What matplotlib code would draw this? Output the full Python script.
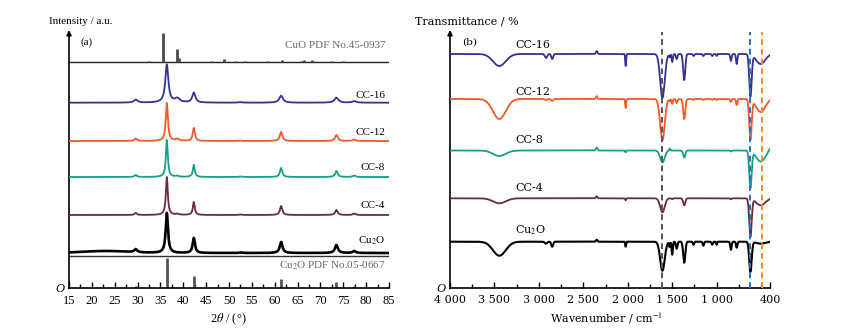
import numpy as np
import matplotlib
matplotlib.use("Agg")
import matplotlib.pyplot as plt
from matplotlib.ticker import FixedLocator, MultipleLocator

plt.rcParams['font.family'] = ['Liberation Serif', 'DejaVu Serif']
plt.rcParams['mathtext.fontset'] = 'stix'

# ---------------- panel (a): XRD ----------------
xrd_labels = ["CC-16", "CC-12", "CC-8", "CC-4", "Cu$_2$O"]
xrd_peak_pos = [29.6, 36.4, 38.7, 42.3, 52.5, 61.4, 73.5, 77.4]
xrd_peak_wscale = [1.2, 1.0, 1.6, 1.0, 1.2, 1.2, 1.3, 1.3]
xrd_cc16 = [3.0, 38.0, 4.0, 10.0, 0.5, 7.0, 5.0, 1.5]
xrd_cc12 = [2.5, 38.0, 2.0, 13.0, 0.5, 9.0, 6.0, 1.5]
xrd_cc8 = [2.0, 37.0, 1.0, 12.0, 0.5, 9.0, 6.0, 1.5]
xrd_cc4 = [2.0, 38.0, 1.0, 13.0, 0.5, 9.0, 5.0, 1.5]
xrd_cu2o = [3.0, 40.0, 0.0, 15.0, 0.5, 11.0, 8.0, 2.0]
xrd_fwhm = [0.8, 0.55, 0.5, 0.5, 0.6]
cu2o_hump = [23.0, 2.0, 12.0]  # position, height, width of amorphous hump

cuo_pdf_pos = [32.5, 35.5, 38.7, 39.0, 46.3, 48.8, 51.4, 53.5, 58.3, 61.5,
               65.8, 66.3, 68.1, 72.4, 75.0, 80.2, 82.4, 83.2]
cuo_pdf_int = [1.5, 29, 13, 4, 1, 3.5, 1, 1.5, 1.5, 2.5,
               1, 2, 2.5, 1, 1, 0.6, 0.6, 0.6]
cu2o_pdf_pos = [29.6, 36.4, 42.3, 52.5, 61.4, 73.5, 77.4]
cu2o_pdf_int = [2, 30, 12, 0.6, 9.5, 6.5, 2]

# ---------------- panel (b): FTIR ----------------
ftir_labels = ["CC-16", "CC-12", "CC-8", "CC-4", "Cu$_2$O"]
ftir_band_pos = [3445, 2920, 2850, 2350, 2024, 1610, 1530, 1500, 1450, 1365,
                 1260, 1150, 1050, 1000, 840, 775, 620, 505, 400]
ftir_band_fwhm = [170, 30, 25, 20, 12, 60, 14, 16, 20, 28,
                  18, 18, 18, 12, 18, 18, 32, 120, 40]
ftir_cc16 = [12, 4, 5, -3, 12, 44, 3, 8, 5, 26, 2, 2, 2, 2, 7, 10, 42, 10, 0]
ftir_cc12 = [20, 1, 2, -3, 9, 41, 2, 5, 4, 20, 1, 1, 1, 1, 3, 6, 40, 13, 0]
ftir_cc8 = [5.5, 0, 0, -3, 2, 12, -2, 0, 0, 7, 0, 0, 0, 0, 1, 0, 37, 11, -3]
ftir_cc4 = [5, 0, 0, -2, 2, 14, 0, 1, 0, 7, 0, 0, 0, 0, 1, 0, 38, 7, 0]
ftir_cu2o = [14, 2, 5, -2, 5, 29, 5, 13, 7, 21, 3, 4, 3, 3, 8, 6, 30, 2, 0]
ftir_marker_lines = [1610, 620, 487]

# ---------------- layout / style ----------------
colors = ["#34318f", "#f05a2a", "#16a085", "#6b2a40", "#000000"]
xrd_offsets = [185.3, 147.0, 111.0, 73.0, 35.0]
ftir_offsets = [234.0, 189.0, 137.5, 89.7, 46.3]
W, H = 847, 336


def rect(x0, x1, ytop, ybot):
    return [x0 / W, 1 - ybot / H, (x1 - x0) / W, (ybot - ytop) / H]


def lorentz(x, pos, amp, fwhm, scale):
    y = np.zeros_like(x)
    for p, a, s in zip(pos, amp, scale):
        y += a / (1 + ((x - p) / (fwhm * s / 2)) ** 2)
    return y


def gauss(x, pos, amp, fwhm):
    y = np.zeros_like(x)
    for p, a, w in zip(pos, amp, fwhm):
        y += a * np.exp(-4 * np.log(2) * ((x - p) / w) ** 2)
    return y


fig = plt.figure(figsize=(W / 100, H / 100), dpi=100)
axa = fig.add_axes(rect(69, 389, 30, 288))
axb = fig.add_axes(rect(450, 770, 30, 288))

for ax in (axa, axb):
    ax.set_ylim(0, 258)
    ax.set_yticks([])
    for s in ("top", "right", "left"):
        ax.spines[s].set_visible(False)
    ax.spines["bottom"].set_linewidth(1.2)
    ax.annotate("", xy=(0, 1.0), xytext=(0, -0.002), xycoords="axes fraction",
                arrowprops=dict(arrowstyle="-|>", lw=1.2, color="black",
                                mutation_scale=7, shrinkA=0, shrinkB=0))
    ax.tick_params(axis="x", which="both", direction="in", width=1.0, pad=5)
    ax.tick_params(axis="x", which="major", length=4.5)
    ax.tick_params(axis="x", which="minor", length=3)

# ---- panel a
x = np.linspace(15, 85, 4000)
xrd_sets = [xrd_cc16, xrd_cc12, xrd_cc8, xrd_cc4, xrd_cu2o]
for i, (amps, off, col) in enumerate(zip(xrd_sets, xrd_offsets, colors)):
    y = off + lorentz(x, xrd_peak_pos, amps, xrd_fwhm[i], xrd_peak_wscale)
    if i == 4:
        y = y + gauss(x, [cu2o_hump[0]], [cu2o_hump[1]], [cu2o_hump[2]])
    axa.plot(x, y, color=col, lw=1.9 if i == 4 else 1.3, zorder=3)

cuo_base = 225.7
axa.axhline(cuo_base, color="#222222", lw=1.0)
axa.axhline(32.3, color="#333333", lw=1.0)
axa.vlines(cuo_pdf_pos, cuo_base, cuo_base + np.array(cuo_pdf_int),
           color="#4a4a4a", lw=2.0)
axa.vlines(cu2o_pdf_pos, 0, cu2o_pdf_int, color="#555555", lw=2.0)

axa.set_xlim(15, 85)
axa.xaxis.set_major_locator(MultipleLocator(5))
axa.xaxis.set_minor_locator(MultipleLocator(2.5))
for lab in axa.get_xticklabels():
    lab.set_fontsize(9)
    lab.set_fontfamily("Liberation Serif")

xrd_label_y = [95, 132.3, 167.7, 205, 241]
for lab, py in zip(xrd_labels, xrd_label_y):
    fig.text(385 / W, 1 - py / H, lab, ha="right", va="center", fontsize=8)
fig.text(386 / W, 1 - 45.7 / H, "CuO PDF No.45-0937", ha="right", va="center",
         fontsize=8, color="#666666")
fig.text(386 / W, 1 - 265.7 / H, "Cu$_2$O PDF No.05-0667", ha="right",
         va="center", fontsize=8, color="#666666")
fig.text(86.7 / W, 1 - 42.3 / H, "(a)", ha="center", va="center", fontsize=8)
fig.text(49 / W, 1 - 21 / H, "Intensity / a.u.", ha="left", va="center",
         fontsize=8)
fig.text(228 / W, 1 - 319 / H, "2$\\theta$ / (°)", ha="center", va="center",
         fontsize=9)
fig.text(60 / W, 1 - 289 / H, "O", ha="center", va="center", fontsize=9,
         style="italic")

# ---- panel b
wn = np.linspace(4000, 400, 6000)
ftir_sets = [ftir_cc16, ftir_cc12, ftir_cc8, ftir_cc4, ftir_cu2o]
for i, (amps, off, col) in enumerate(zip(ftir_sets, ftir_offsets, colors)):
    y = off - gauss(wn, ftir_band_pos, amps, ftir_band_fwhm)
    axb.plot(wn, y, color=col, lw=1.5 if i == 4 else 1.3, zorder=3)

dash_cols = ["#555555", "#2a6ebb", "#f28a2e"]
for w, c in zip(ftir_marker_lines, dash_cols):
    axb.axvline(w, ymin=0, ymax=(288 - 32) / 258, color=c, lw=1.4,
                ls=(0, (3, 2)), zorder=4)

axb.set_xlim(4000, 400)
axb.xaxis.set_major_locator(FixedLocator([4000, 3500, 3000, 2500, 2000,
                                          1500, 1000, 400]))
axb.xaxis.set_minor_locator(FixedLocator([3750, 3250, 2750, 2250, 1750,
                                          1250, 750, 500]))
axb.set_xticklabels(["4 000", "3 500", "3 000", "2 500", "2 000", "1 500",
                     "1 000", "400"], fontsize=8, fontfamily="DejaVu Serif")

ftir_label_y = [45, 91.7, 140, 188.3, 230]
for lab, py in zip(ftir_labels, ftir_label_y):
    fig.text(515 / W, 1 - py / H, lab, ha="left", va="center", fontsize=8,
             fontfamily="DejaVu Serif")
fig.text(470 / W, 1 - 41.7 / H, "(b)", ha="center", va="center",
         fontsize=7.5, fontfamily="DejaVu Serif")
fig.text(415 / W, 1 - 21 / H, "Transmittance / %", ha="left", va="center",
         fontsize=8, fontfamily="DejaVu Serif")
fig.text(607 / W, 1 - 319 / H, "Wavenumber / cm$^{-1}$", ha="center",
         va="center", fontsize=8, fontfamily="DejaVu Serif")
fig.text(441 / W, 1 - 289 / H, "O", ha="center", va="center", fontsize=9,
         style="italic")

fig.savefig("out.png", dpi=100)
